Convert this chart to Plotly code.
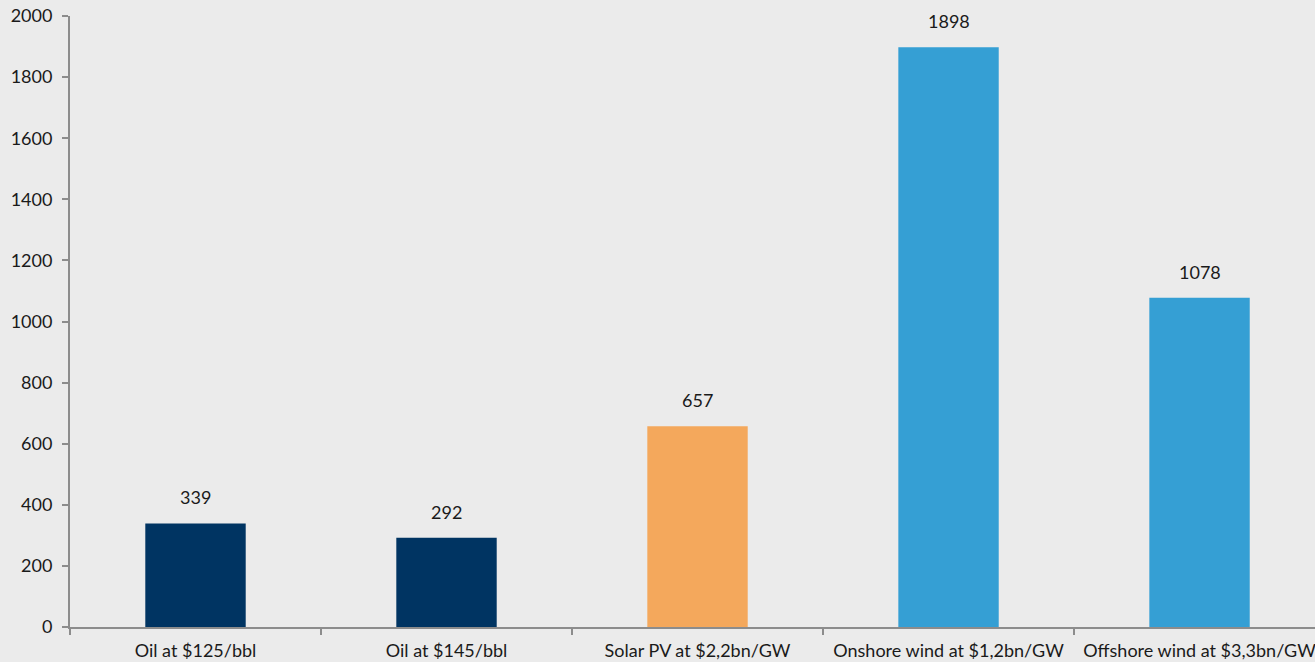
import plotly.graph_objects as go

categories = [
    "Oil at $125/bbl",
    "Oil at $145/bbl",
    "Solar PV at $2,2bn/GW",
    "Onshore wind at $1,2bn/GW",
    "Offshore wind at $3,3bn/GW",
]
values = [339, 292, 657, 1898, 1078]
colors = ["#003462", "#003462", "#f4a85c", "#359fd4", "#359fd4"]
y_ticks = list(range(0, 2001, 200))

font_family = "Lato, 'Open Sans', sans-serif"
text_color = "#1a1a1a"

fig = go.Figure(
    go.Bar(
        x=categories,
        y=values,
        marker=dict(color=colors, line=dict(width=0)),
        hoverinfo="skip",
    )
)

for cat, val in zip(categories, values):
    fig.add_annotation(
        x=cat, y=val, text=str(val), showarrow=False,
        yanchor="bottom", yshift=13,
        font=dict(family=font_family, size=18, color=text_color),
    )

fig.update_layout(
    width=1315, height=662,
    margin=dict(l=70, r=0, t=16, b=35),
    paper_bgcolor="#ebebeb",
    plot_bgcolor="#ebebeb",
    bargap=0.6,
    showlegend=False,
    font=dict(family=font_family, size=18, color=text_color),
)

fig.update_xaxes(
    type="category",
    range=[-0.5, 4.46],
    showline=True, linecolor="#8c8c8c", linewidth=2,
    ticks="outside", tickson="boundaries", ticklen=6, tickcolor="#8c8c8c", tickwidth=2,
    ticklabelstandoff=6,
    showgrid=False, zeroline=False,
    tickfont=dict(family=font_family, size=18, color=text_color),
)

fig.update_yaxes(
    range=[0, 2000],
    tickvals=y_ticks,
    showline=True, linecolor="#8c8c8c", linewidth=2,
    ticks="outside", ticklen=6, tickcolor="#8c8c8c", tickwidth=2,
    ticklabelstandoff=6,
    showgrid=False, zeroline=False,
    tickfont=dict(family=font_family, size=18, color=text_color),
)

fig.write_html("out.html")
